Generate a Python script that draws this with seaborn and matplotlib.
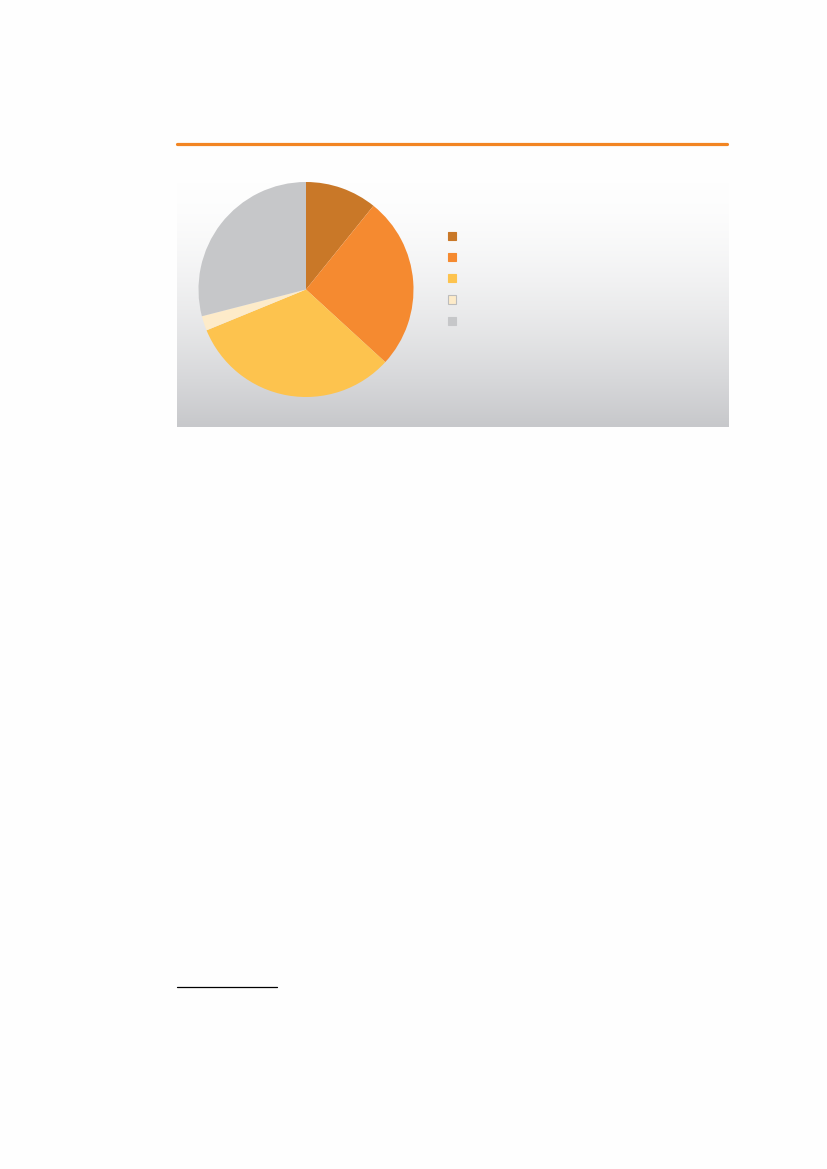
import numpy as np
import seaborn as sns
from matplotlib import pyplot as plt
from matplotlib.lines import Line2D
from matplotlib.patches import Patch

sns.set_theme(style="white")
plt.rcParams["font.family"] = ["DejaVu Sans"]

# slice shares (percent), clockwise from 12 o'clock
categories = ["A", "B", "C", "D", "E"]
shares = [10.8, 26.0, 32.0, 2.2, 29.0]
colors = ["#C97828", "#F58A30", "#FDC34E", "#FDEBC9", "#C6C7C9"]

W, H = 827, 1169
fig = plt.figure(figsize=(W / 100, H / 100), dpi=100)
fig.patch.set_facecolor("#FEFEFE")


def fig_rect(x0, y0, x1, y1):
    # pixel box (top-left origin) -> figure fraction rect
    return [x0 / W, 1 - y1 / H, (x1 - x0) / W, (y1 - y0) / H]


# orange rule above the chart
fig.add_artist(Line2D([177 / W, 727 / W], [1 - 144 / H] * 2, color="#F28522", lw=2.3))

# gradient panel (light for longer at the top)
bg = fig.add_axes(fig_rect(177, 183, 729, 427))
grad = np.linspace(0, 1, 256)[:, None] ** 1.6
top = np.array([254, 254, 254]) / 255
bottom = np.array([199, 200, 203]) / 255
img = top + (bottom - top) * grad[..., None]
bg.imshow(img, aspect="auto", extent=[0, 1, 0, 1], origin="upper")
bg.set_axis_off()

# pie
ax = fig.add_axes(fig_rect(198.5, 182, 413.5, 397))
ax.pie(shares, colors=colors, startangle=90, counterclock=False, radius=1,
       wedgeprops=dict(linewidth=0))
ax.set_xlim(-1, 1)
ax.set_ylim(-1, 1)
ax.set_axis_off()

# legend with blank labels
handles = [Patch(facecolor=c, edgecolor=("#BDBDBD" if c == "#FDEBC9" else c), lw=0.8)
           for c in colors]
fig.legend(handles, [""] * len(categories), loc="upper left",
           bbox_to_anchor=(448 / W, 1 - 232 / H), frameon=False,
           fontsize=8, handlelength=0.75, handleheight=0.75,
           labelspacing=1.0, borderpad=0, borderaxespad=0, handletextpad=0.3)

# footnote rule
fig.add_artist(Line2D([177 / W, 277 / W], [1 - 987 / H] * 2, color="black", lw=0.9))

fig.savefig("out.png", dpi=100, facecolor=fig.get_facecolor())
